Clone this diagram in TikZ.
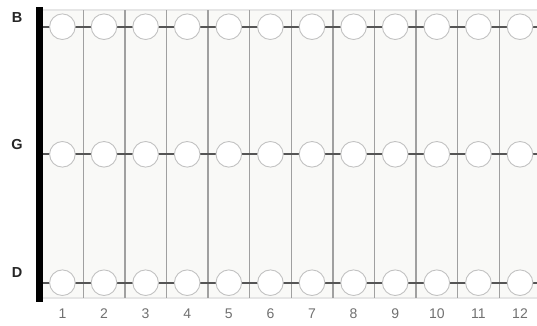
\documentclass[tikz,border=0pt]{standalone}
\usepackage{fontspec}
\setmainfont{Liberation Sans}
\usetikzlibrary{positioning}

\definecolor{boardbg}{HTML}{F9F9F7}
\definecolor{boardedge}{HTML}{E6E6E6}
\definecolor{fretgray}{HTML}{A0A0A0}
\definecolor{stringgray}{HTML}{555555}
\definecolor{dotgray}{HTML}{C2C2C2}
\definecolor{numgray}{HTML}{707070}

\tikzset{
  strname/.style={font=\fontsize{14.5}{14.5}\selectfont\bfseries, text=black!85},
  fretnum/.style={font=\fontsize{14}{14}\selectfont, text=numgray},
  fretline/.style={fretgray, line width=1.4pt},
  strline/.style={stringgray, line width=1.9pt},
  spot/.style={circle, draw=dotgray, fill=white, line width=0.9pt, minimum size=25.6pt, inner sep=0pt},
}

\begin{document}
\begin{tikzpicture}[x=1pt,y=-1pt]
\useasboundingbox (0,0) rectangle (537,325);
% board
\fill[boardbg] (43,10) rectangle (537,298);
\draw[boardedge, line width=1.5pt] (43,10) -- (537,10);
\draw[boardedge, line width=1.5pt] (43,298) -- (537,298);
% frets
\draw[fretline] (83.2,10) -- (83.2,298);
\draw[fretline] (124.8,10) -- (124.8,298);
\draw[fretline] (166.4,10) -- (166.4,298);
\draw[fretline] (208,10) -- (208,298);
\draw[fretline] (249.6,10) -- (249.6,298);
\draw[fretline] (291.2,10) -- (291.2,298);
\draw[fretline] (332.8,10) -- (332.8,298);
\draw[fretline] (374.4,10) -- (374.4,298);
\draw[fretline] (416,10) -- (416,298);
\draw[fretline] (457.6,10) -- (457.6,298);
\draw[fretline] (499.2,10) -- (499.2,298);
% nut
\fill[black] (36,7) rectangle (43,302);
% strings
\coordinate (nutB) at (43,26.7);
\coordinate (endB) at (537,26.7);
\coordinate (nutG) at (43,154.3);
\coordinate (endG) at (537,154.3);
\coordinate (nutD) at (43,282.7);
\coordinate (endD) at (537,282.7);
\draw[strline] (nutB) -- (endB);
\draw[strline] (nutG) -- (endG);
\draw[strline] (nutD) -- (endD);
% string names
\node[strname] (nameB) at (17,17.3) {B};
\node[strname] (nameG) at (17,145) {G};
\node[strname] (nameD) at (17,272.5) {D};
% B string
\node[spot] (b1) at (62.4,26.7) {};
\node[spot] (b2) at (104,26.7) {};
\node[spot] (b3) at (145.6,26.7) {};
\node[spot] (b4) at (187.2,26.7) {};
\node[spot] (b5) at (228.8,26.7) {};
\node[spot] (b6) at (270.4,26.7) {};
\node[spot] (b7) at (312,26.7) {};
\node[spot] (b8) at (353.6,26.7) {};
\node[spot] (b9) at (395.2,26.7) {};
\node[spot] (b10) at (436.8,26.7) {};
\node[spot] (b11) at (478.4,26.7) {};
\node[spot] (b12) at (520,26.7) {};
% G string
\node[spot] (g1) at (62.4,154.3) {};
\node[spot] (g2) at (104,154.3) {};
\node[spot] (g3) at (145.6,154.3) {};
\node[spot] (g4) at (187.2,154.3) {};
\node[spot] (g5) at (228.8,154.3) {};
\node[spot] (g6) at (270.4,154.3) {};
\node[spot] (g7) at (312,154.3) {};
\node[spot] (g8) at (353.6,154.3) {};
\node[spot] (g9) at (395.2,154.3) {};
\node[spot] (g10) at (436.8,154.3) {};
\node[spot] (g11) at (478.4,154.3) {};
\node[spot] (g12) at (520,154.3) {};
% D string
\node[spot] (d1) at (62.4,282.7) {};
\node[spot] (d2) at (104,282.7) {};
\node[spot] (d3) at (145.6,282.7) {};
\node[spot] (d4) at (187.2,282.7) {};
\node[spot] (d5) at (228.8,282.7) {};
\node[spot] (d6) at (270.4,282.7) {};
\node[spot] (d7) at (312,282.7) {};
\node[spot] (d8) at (353.6,282.7) {};
\node[spot] (d9) at (395.2,282.7) {};
\node[spot] (d10) at (436.8,282.7) {};
\node[spot] (d11) at (478.4,282.7) {};
\node[spot] (d12) at (520,282.7) {};
% fret numbers
\node[fretnum] (n1) at (62.4,313.5) {1};
\node[fretnum] (n2) at (104,313.5) {2};
\node[fretnum] (n3) at (145.6,313.5) {3};
\node[fretnum] (n4) at (187.2,313.5) {4};
\node[fretnum] (n5) at (228.8,313.5) {5};
\node[fretnum] (n6) at (270.4,313.5) {6};
\node[fretnum] (n7) at (312,313.5) {7};
\node[fretnum] (n8) at (353.6,313.5) {8};
\node[fretnum] (n9) at (395.2,313.5) {9};
\node[fretnum] (n10) at (436.8,313.5) {10};
\node[fretnum] (n11) at (478.4,313.5) {11};
\node[fretnum] (n12) at (520,313.5) {12};
\end{tikzpicture}
\end{document}
